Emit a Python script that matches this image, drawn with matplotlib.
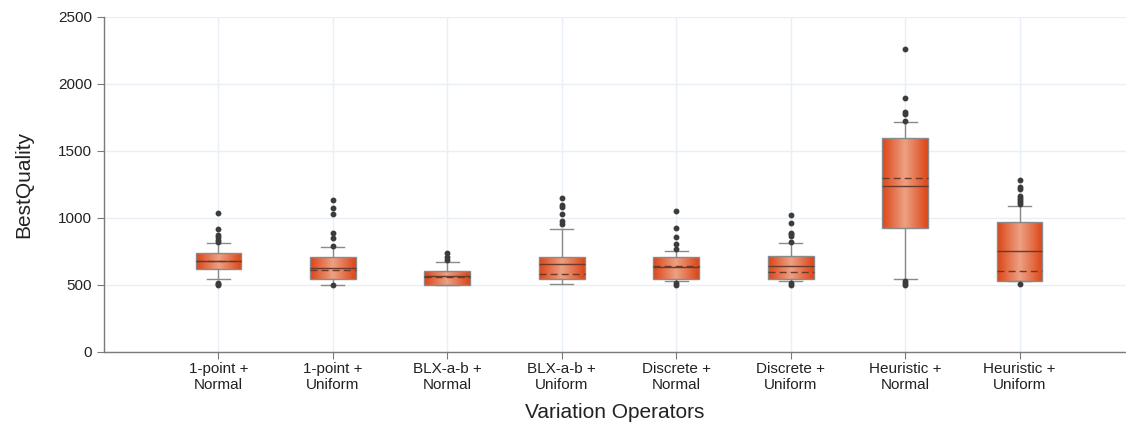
import numpy as np
import matplotlib.pyplot as plt
from matplotlib.colors import LinearSegmentedColormap

plt.rcParams["font.family"] = ["Liberation Sans", "DejaVu Sans"]

labels = ["1-point +\nNormal", "1-point +\nUniform", "BLX-a-b +\nNormal", "BLX-a-b +\nUniform",
          "Discrete +\nNormal", "Discrete +\nUniform", "Heuristic +\nNormal", "Heuristic +\nUniform"]

q1 = [617, 543, 502, 543, 545, 545, 925, 530]
med = [677, 629, 567, 654, 637, 639, 1239, 754]
q3 = [741, 711, 604, 711, 711, 719, 1599, 970]
mean = [679, 610, 562, 582, 642, 597, 1301, 607]
whislo = [543, 502, 502, 505, 530, 530, 547, 530]
whishi = [816, 786, 672, 918, 754, 811, 1716, 1092]
fliers = [
    [1035, 920, 873, 858, 836, 821, 515, 505, 500],
    [1134, 1072, 1030, 890, 848, 791, 500],
    [736, 707, 687],
    [1149, 1097, 1082, 1028, 978, 957],
    [1054, 925, 856, 804, 766, 512, 500],
    [1025, 965, 890, 878, 866, 823, 512, 500],
    [2259, 1895, 1788, 1774, 1724, 532, 512, 500],
    [1281, 1234, 1214, 1166, 1152, 1134, 1119, 1104, 507],
]

stats = []
for i in range(len(labels)):
    stats.append(dict(q1=q1[i], med=med[i], q3=q3[i], mean=mean[i],
                      whislo=whislo[i], whishi=whishi[i], fliers=fliers[i]))

fig = plt.figure(figsize=(11.26, 4.23), dpi=100)
ax = fig.add_axes([0.0924, 0.168, 0.9076, 0.792])

grid_c = "#e9eff6"
edge_c = "#8a8a8a"
bp = ax.bxp(stats, positions=np.arange(1, 9), widths=0.4, patch_artist=True,
            showmeans=True, meanline=True,
            boxprops=dict(facecolor="none", edgecolor=edge_c, linewidth=1.0),
            whiskerprops=dict(color=edge_c, linewidth=1.0),
            capprops=dict(color=edge_c, linewidth=1.0),
            capwidths=0.2,
            medianprops=dict(color="#6b3a2a", linewidth=1.0),
            meanprops=dict(color="#6b3a2a", linewidth=1.0, linestyle=(0, (5, 3))),
            flierprops=dict(marker="o", markersize=3.2, markerfacecolor="#3c3c3c",
                            markeredgecolor="#3c3c3c"))

# horizontal gradient inside each box
cmap = LinearSegmentedColormap.from_list("boxgrad", ["#dd4515", "#eca184", "#dd4515"])
grad = np.linspace(0, 1, 256).reshape(1, -1)
for patch in bp["boxes"]:
    ext = patch.get_path().get_extents()
    im = ax.imshow(grad, cmap=cmap, aspect="auto", extent=(ext.x0, ext.x1, ext.y0, ext.y1),
                   zorder=1.5, interpolation="bicubic")
    im.set_clip_path(patch)
    patch.set_zorder(2)

ax.set_xlim(0, 8.93)
ax.set_ylim(0, 2500)
ax.set_yticks(np.arange(0, 2501, 500))
ax.set_xticks(np.arange(1, 9))
ax.set_xticklabels(labels)
ax.grid(True, color=grid_c, linewidth=1.0)
ax.set_axisbelow(True)

for s in ["top", "right"]:
    ax.spines[s].set_visible(False)
for s in ["left", "bottom"]:
    ax.spines[s].set_color("#7a7a7a")
    ax.spines[s].set_linewidth(1.0)
ax.tick_params(axis="both", colors="#7a7a7a", labelcolor="#222222", labelsize=11, length=5)
ax.tick_params(axis="x", pad=2)

ax.set_xlabel("Variation Operators", fontsize=15, color="#222222", labelpad=8)
ax.set_ylabel("BestQuality", fontsize=15, color="#222222", labelpad=18)

fig.savefig("out.png", dpi=100)
